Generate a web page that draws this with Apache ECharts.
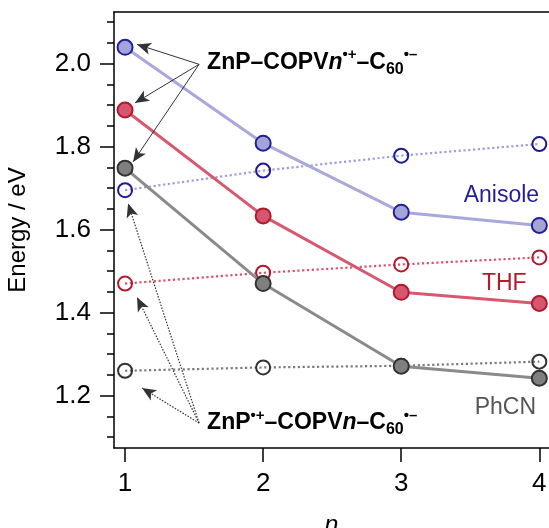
<!DOCTYPE html>
<html>
<head>
<meta charset="utf-8">
<script src="https://cdn.jsdelivr.net/npm/echarts@6/dist/echarts.min.js"></script>
<style>
  html, body { margin: 0; padding: 0; background: #fff; }
  #chart { width: 549px; height: 528px; }
</style>
</head>
<body>
<div id="chart"></div>
<script>
// Number of COPV units
const nValues = [1, 2, 3, 4];

// ZnP–COPVn•+–C60•– (filled circles, solid lines)
const anisoleCS1 = [2.039, 1.808, 1.642, 1.610];
const thfCS1     = [1.888, 1.633, 1.449, 1.422];
const phcnCS1    = [1.748, 1.470, 1.271, 1.242];

// ZnP•+–COPVn–C60•– (open circles, dotted lines)
const anisoleCS2 = [1.695, 1.742, 1.778, 1.806];
const thfCS2     = [1.470, 1.496, 1.516, 1.533];
const phcnCS2    = [1.260, 1.268, 1.272, 1.282];

const yMajorTicks = [1.2, 1.4, 1.6, 1.8, 2.0];
const yMinorTicks = [1.1, 1.15, 1.2, 1.25, 1.3, 1.35, 1.4, 1.45, 1.5, 1.55, 1.6,
                     1.65, 1.7, 1.75, 1.8, 1.85, 1.9, 1.95, 2.0, 2.05, 2.1];
const xTicks = [1, 2, 3, 4];

const FONT = '"Liberation Sans", Arial, Helvetica, sans-serif';

const pairs = vals => nValues.map((n, i) => [n, vals[i]]);

function solidSeries(name, vals, lineColor, fill, border) {
  return {
    name, type: 'line', data: pairs(vals), z: 5,
    symbol: 'circle', symbolSize: 15,
    lineStyle: { color: lineColor, width: 3 },
    itemStyle: { color: fill, borderColor: border, borderWidth: 2 },
    emphasis: { disabled: true }, animation: false
  };
}
function dottedSeries(name, vals, lineColor, border) {
  return {
    name, type: 'line', data: pairs(vals), z: 3,
    symbol: 'circle', symbolSize: 14,
    lineStyle: { color: lineColor, width: 2.2, type: [2.2, 2.6] },
    itemStyle: { color: 'rgba(255,255,255,0)', borderColor: border, borderWidth: 2 },
    emphasis: { disabled: true }, animation: false
  };
}

// Annotation arrows (data coordinates)
const topSrc = [1.536, 1.998];
const topTargets = [[1.087, 2.046], [1.072, 1.905], [1.058, 1.763]];
const botSrc = [1.536, 1.134];
const botTargets = [[1.022, 1.663], [1.087, 1.437], [1.123, 1.2185]];

const arrowLines = [];
topTargets.forEach(t => arrowLines.push([
  { coord: topSrc, lineStyle: { color: '#333', width: 1, type: 'solid' } },
  { coord: t }
]));
botTargets.forEach(t => arrowLines.push([
  { coord: botSrc, lineStyle: { color: '#333', width: 1.2, type: [1.5, 1.5] } },
  { coord: t }
]));

const chart = echarts.init(document.getElementById('chart'), null, { renderer: 'canvas' });

const yBase = {
  type: 'value', min: 1.074, max: 2.124, position: 'left',
  splitLine: { show: false }
};

chart.setOption({
  animation: false,
  grid: { left: 114, right: 0, top: 12, bottom: 80, outerBoundsMode: 'none', containLabel: false },
  xAxis: [{
    type: 'value', min: 0.92, max: 4.07,
    name: 'n', nameLocation: 'middle', nameGap: 66,
    nameTextStyle: { fontFamily: FONT, fontSize: 25, fontStyle: 'italic', color: '#000' },
    axisLine: { show: true, lineStyle: { color: '#000', width: 1.5 } },
    axisTick: { show: true, customValues: xTicks, length: 14, inside: false,
                lineStyle: { color: '#000', width: 1.5 } },
    axisLabel: { customValues: xTicks, margin: 23, fontFamily: FONT, fontSize: 26, color: '#000' },
    splitLine: { show: false }
  }, {
    type: 'value', min: 0.92, max: 4.07, position: 'top',
    axisLine: { show: true, lineStyle: { color: '#000', width: 1.5 } },
    axisTick: { show: false }, axisLabel: { show: false }, splitLine: { show: false }
  }],
  yAxis: [Object.assign({}, yBase, {
    name: 'Energy / eV', nameLocation: 'middle', nameGap: 84,
    nameTextStyle: { fontFamily: FONT, fontSize: 24, color: '#000' },
    axisLine: { show: true, lineStyle: { color: '#000', width: 1.5 } },
    axisTick: { show: true, customValues: yMajorTicks, length: 14,
                lineStyle: { color: '#000', width: 1.5 } },
    axisLabel: { customValues: yMajorTicks, margin: 23, fontFamily: FONT, fontSize: 26,
                 color: '#000', formatter: v => v.toFixed(1) }
  }), Object.assign({}, yBase, {
    axisLine: { show: false },
    axisTick: { show: true, customValues: yMinorTicks, length: 7,
                lineStyle: { color: '#000', width: 1.5 } },
    axisLabel: { show: false }
  })],
  series: [
    dottedSeries('PhCN CS2', phcnCS2, '#7a7a7a', '#333333'),
    dottedSeries('THF CS2', thfCS2, '#e0506a', '#b01a2c'),
    dottedSeries('Anisole CS2', anisoleCS2, '#9c9ce0', '#1c1a94'),
    solidSeries('PhCN CS1', phcnCS1, '#8a8a8a', '#7f7f7f', '#333333'),
    solidSeries('THF CS1', thfCS1, '#d8586f', '#d65670', '#b0182c'),
    Object.assign(solidSeries('Anisole CS1', anisoleCS1, '#a8a8dc', '#a4a4d8', '#20209a'), {
      markLine: {
        silent: true, symbol: ['none', 'arrow'], symbolSize: [9, 14],
        label: { show: false }, data: arrowLines, animation: false, z: 8
      }
    })
  ]
});

// Text annotations placed in data space
const px = c => chart.convertToPixel({ xAxisIndex: 0, yAxisIndex: 0 }, c);

const rich = {
  b:   { fontFamily: FONT, fontSize: 23, fontWeight: 'bold', color: '#000', lineHeight: 30, verticalAlign: 'middle' },
  bi:  { fontFamily: FONT, fontSize: 23, fontWeight: 'bold', fontStyle: 'italic', color: '#000', lineHeight: 30, verticalAlign: 'middle' },
  sup: { fontFamily: FONT, fontSize: 15, fontWeight: 'bold', color: '#000', lineHeight: 13, verticalAlign: 'top' },
  sub: { fontFamily: FONT, fontSize: 16, fontWeight: 'bold', color: '#000', lineHeight: 15, verticalAlign: 'bottom' }
};

const pTop = px([1.594, 2.003]);
const pBot = px([1.594, 1.134]);
const pAn = px([3.725, 1.6825]);
const pThf = px([3.746, 1.4705]);
const pPh = px([3.754, 1.170]);

function plain(p, text, color) {
  return {
    type: 'text', x: p[0], y: p[1], z: 20,
    style: { text, fill: color, font: '23px ' + FONT, align: 'center', verticalAlign: 'middle' }
  };
}

chart.setOption({
  graphic: [
    {
      type: 'text', x: pTop[0], y: pTop[1], z: 20,
      style: {
        text: '{b|ZnP–COPV}{bi|n}{sup|•+}{b|–C}{sub|60}{sup|•–}',
        rich, align: 'left', verticalAlign: 'middle'
      }
    },
    {
      type: 'text', x: pBot[0], y: pBot[1], z: 20,
      style: {
        text: '{b|ZnP}{sup|•+}{b|–COPV}{bi|n}{b|–C}{sub|60}{sup|•–}',
        rich, align: 'left', verticalAlign: 'middle'
      }
    },
    plain(pAn, 'Anisole', '#241c9c'),
    plain(pThf, 'THF', '#b01c2c'),
    plain(pPh, 'PhCN', '#555555')
  ]
});
</script>
</body>
</html>
